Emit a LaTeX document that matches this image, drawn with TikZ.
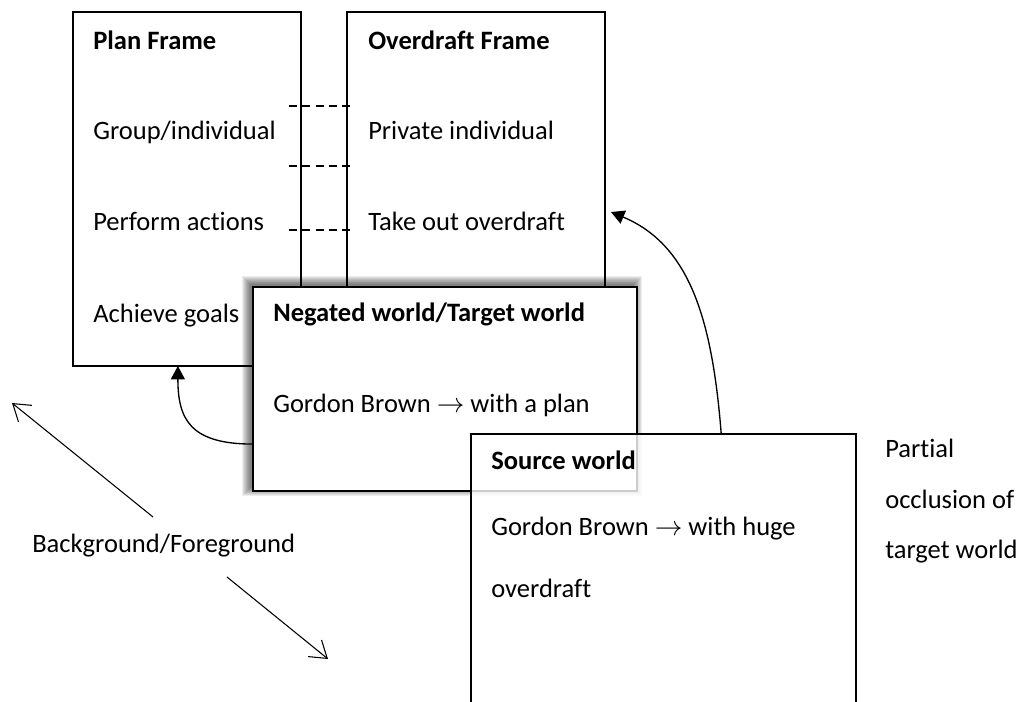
\documentclass[tikz,border=0pt]{standalone}
\usepackage{fontspec}
\setmainfont{Carlito}[Ligatures=NoCommon]
\usetikzlibrary{arrows.meta,calc}
\tikzset{
  box/.style={draw=black, line width=1.1pt, fill=white, rectangle, inner sep=0pt, outer sep=0pt, anchor=north west},
  lbl/.style={anchor=base west, inner sep=0pt, font=\fontsize{19.9}{23}\selectfont},
  ttl/.style={anchor=base west, inner sep=0pt, font=\fontsize{19.9}{23}\selectfont\bfseries},
  dashline/.style={line width=0.9pt, dash pattern=on 6pt off 4pt},
  link/.style={line width=1pt, -{Triangle[length=10pt,width=10.5pt]}},
  dirarrow/.style={line width=0.8pt, -{Straight Barb[length=12pt,width=16pt,line width=0.8pt]}},
  shadowlayer/.style={fill=black, fill opacity=0.07, draw=none}
}
\begin{document}
\begin{tikzpicture}[x=0.75pt,y=-0.75pt]
\useasboundingbox (0,0) rectangle (1026,702);

% frames
\node[box, minimum width=171pt, minimum height=265.5pt] (plan) at (73,12) {};
\node[box, minimum width=193.5pt, minimum height=265.5pt] (ovd) at (347,12) {};

\node[ttl] (planT) at (93,50) {Plan Frame};
\node[lbl] (plan1) at (93,140) {Group/individual};
\node[lbl] (plan2) at (93,231) {Perform actions};
\node[lbl] (plan3) at (93,323) {Achieve goals};

\node[ttl] (ovdT) at (368,50) {Overdraft Frame};
\node[lbl] (ovd1) at (368,140) {Private individual};
\node[lbl] (ovd2) at (368,231) {Take out overdraft};

% dashed correspondences
\coordinate (d1l) at (289,106); \coordinate (d1r) at (352,106);
\coordinate (d2l) at (289,166); \coordinate (d2r) at (352,166);
\coordinate (d3l) at (289,230); \coordinate (d3r) at (352,230);
\draw[dashline] (d1l) -- (d1r);
\draw[dashline] (d2l) -- (d2r);
\draw[dashline] (d3l) -- (d3r);

% shadow of negated world
\foreach \k in {0,...,8}{
  \fill[shadowlayer] (250-\k,284-\k) rectangle (634+\k,488+\k);
}
\node[box, minimum width=288pt, minimum height=153pt] (neg) at (253,287) {};
\node[ttl] (negT) at (273,322) {Negated world/Target world};
\node[lbl] (neg1) at (273,413) {Gordon Brown $\rightarrow$ with a plan};

% source world (partially transparent)
\node[box, fill opacity=0.8, minimum width=288.75pt, minimum height=214.5pt] (src) at (471,434) {};
\node[ttl] (srcT) at (491,470) {Source world};
\node[lbl] (src1) at (491,536) {Gordon Brown $\rightarrow$ with huge};
\node[lbl] (src2) at (491,598) {overdraft};

% side labels
\node[lbl] (occ1) at (885,458) {Partial};
\node[lbl] (occ2) at (885,509) {occlusion of};
\node[lbl] (occ3) at (885,559) {target world};
\node[lbl] (bf) at (32,552) {Background/Foreground};

% connectors
\draw[link] ($(neg.north west)!0.77!(neg.south west)$) .. controls +(-63,0) and +(0,53) .. ($(plan.south west)!0.46!(plan.south east)$);
\draw[link] ($(src.north west)!0.65!(src.north east)$) .. controls +(-9,-114) and +(79,33) .. ($(ovd.north east)!0.565!(ovd.south east)+(6,0)$);

\coordinate (bf1s) at (153,517); \coordinate (bf1e) at (12,403);
\coordinate (bf2s) at (227,577); \coordinate (bf2e) at (328,659);
\draw[dirarrow] (bf1s) -- (bf1e);
\draw[dirarrow] (bf2s) -- (bf2e);
\end{tikzpicture}
\end{document}
